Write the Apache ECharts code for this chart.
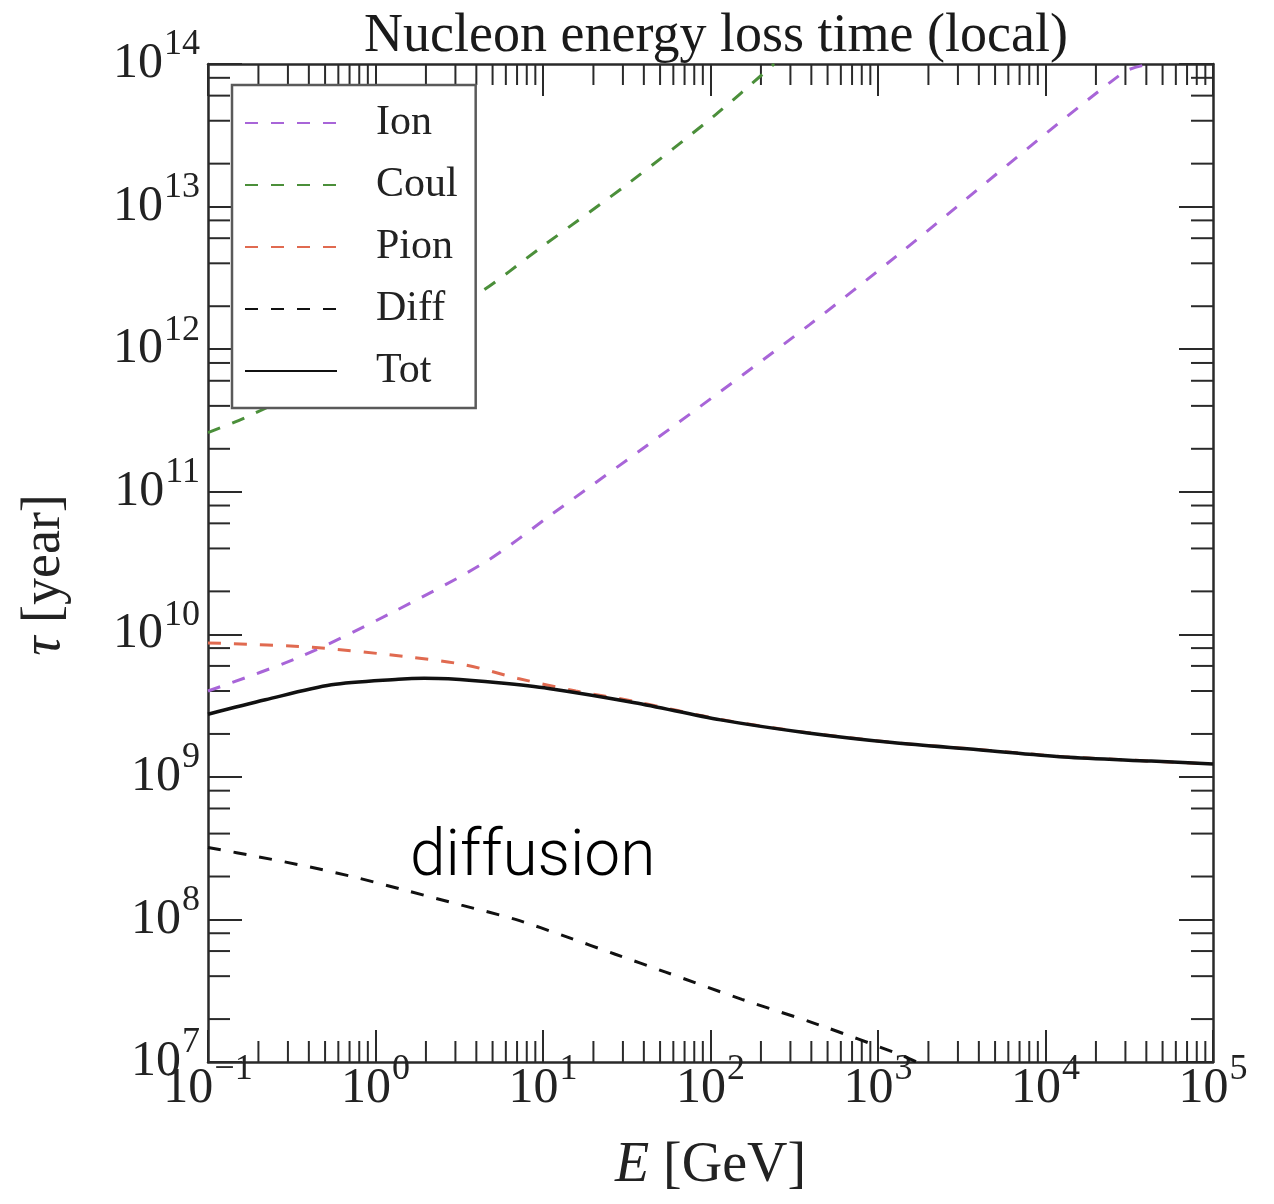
<!DOCTYPE html>
<html>
<head>
<meta charset="utf-8">
<script src="https://cdn.jsdelivr.net/npm/echarts@6/dist/echarts.min.js"></script>
<style>
  html, body { margin: 0; padding: 0; background: #fff; }
  #chart { width: 1274px; height: 1204px; }
</style>
</head>
<body>
<div id="chart"></div>
<script>
// Nucleon energy-loss times: energy E [GeV] and loss time tau [year]
const ionE   = [0.1, 0.35, 1.24, 4.5, 11.2, 63, 389, 1290, 29000, 42000];
const ionTau = [4.0e9, 6.9e9, 1.41e10, 3.2e10, 6.9e10, 3.0e11, 1.48e12, 4.5e12, 8.7e13, 1.0e14];

const coulE   = [0.1, 0.166, 0.8, 4.0, 9.8, 33, 107, 240];
const coulTau = [2.6e11, 3.3e11, 8.0e11, 2.4e12, 5.2e12, 1.48e13, 4.4e13, 1.0e14];

const pionE   = [0.1, 0.42, 1.64, 3.44, 7.1, 15.7, 35.3, 115, 372, 1216, 3981, 12900, 42700, 1e5];
const pionTau = [8.7e9, 8.1e9, 6.9e9, 6.1e9, 4.9e9, 4.0e9, 3.38e9, 2.53e9, 2.05e9, 1.745e9, 1.555e9, 1.385e9, 1.29e9, 1.23e9];

const diffE   = [0.1, 0.2, 0.4, 0.79, 1.57, 3.26, 6.85, 13.6, 27, 54, 154, 445, 1290, 1700];
const diffTau = [3.2e8, 2.75e8, 2.34e8, 1.95e8, 1.58e8, 1.26e8, 1.0e8, 7.6e7, 5.7e7, 4.27e7, 2.75e7, 1.82e7, 1.15e7, 1.0e7];

const totE   = [0.1, 0.22, 0.545, 1.37, 1.95, 2.72, 5.42, 10.8, 35.3, 115, 372, 1216, 3981, 12900, 42700, 1e5];
const totTau = [2.75e9, 3.47e9, 4.42e9, 4.84e9, 4.92e9, 4.88e9, 4.57e9, 4.17e9, 3.31e9, 2.51e9, 2.04e9, 1.74e9, 1.55e9, 1.38e9, 1.29e9, 1.23e9];

const seriesNames = ['Ion', 'Coul', 'Pion', 'Diff', 'Tot'];
const seriesColors = ['#a865d8', '#4b8f3a', '#e06a50', '#111111', '#111111'];

// Axis ranges (decades)
const xMin = 0.1, xMax = 1e5;
const yMin = 1e7, yMax = 1e14;
const xMinorMantissas = [2, 3, 4, 5, 6, 7, 8, 9];
const yMinorMantissas = [2, 4, 6, 8];

const SERIF = '"Liberation Serif", "Times New Roman", serif';
const FRAME = '#2a2a2a';

function pairs(xs, ys) { return xs.map((x, i) => [x, ys[i]]); }

function minorValues(lo, hi, mantissas) {
  const out = [];
  for (let k = Math.round(Math.log10(lo)); k < Math.round(Math.log10(hi)); k++) {
    mantissas.forEach(m => out.push(m * Math.pow(10, k)));
  }
  return out;
}

function powLabel(value) {
  const e = Math.round(Math.log10(value));
  return '{b|10}{s|' + String(e).replace('-', '\u2212') + '}';
}

const powRich = {
  b: { fontFamily: SERIF, fontSize: 50, lineHeight: 50, color: '#222', verticalAlign: 'bottom' },
  s: { fontFamily: SERIF, fontSize: 36, lineHeight: 36, color: '#222', verticalAlign: 'bottom', padding: [0, 0, 26, 1] }
};

const dash = [13, 13];

function lineSeries(name, xs, ys, color, solid) {
  return {
    name: name,
    type: 'line',
    xAxisIndex: 0, yAxisIndex: 0,
    data: pairs(xs, ys),
    symbol: 'none',
    smooth: 0.3,
    clip: true,
    lineStyle: { color: color, width: solid ? 3.5 : 3, type: solid ? 'solid' : dash },
    itemStyle: { color: color },
    z: 3
  };
}

const tickStyle = { stroke: FRAME, lineWidth: 2 };

const chart = echarts.init(document.getElementById('chart'), null, { renderer: 'canvas' });

chart.setOption({
  backgroundColor: '#fff',
  animation: false,
  title: {
    text: 'Nucleon energy loss time (local)',
    left: 711, top: 5, textAlign: 'center',
    textStyle: { fontFamily: SERIF, fontSize: 54, fontWeight: 'normal', color: '#1a1a1a' }
  },
  grid: { left: 208, right: 61, top: 64, bottom: 142, containLabel: false, outerBoundsMode: 'none' },
  legend: {
    data: seriesNames,
    orient: 'vertical',
    left: 232, top: 85,
    itemWidth: 92, itemHeight: 14, itemGap: 20,
    padding: [17, 18, 16, 12],
    backgroundColor: '#fff',
    borderColor: '#5a5a5a', borderWidth: 2.5, borderRadius: 0,
    itemStyle: { opacity: 0 },
    textStyle: { fontFamily: SERIF, fontSize: 42, color: '#222', padding: [0, 0, 0, 34] },
    z: 10
  },
  xAxis: [
    {
      type: 'log', logBase: 10, min: xMin, max: xMax, splitNumber: 6, position: 'bottom',
      name: '{i|E}{r| [GeV]}', nameLocation: 'middle', nameGap: 76,
      nameTextStyle: { rich: {
        i: { fontFamily: SERIF, fontStyle: 'italic', fontSize: 56, color: '#222' },
        r: { fontFamily: SERIF, fontSize: 56, color: '#222' }
      } },
      axisLine: { show: true, lineStyle: { color: FRAME, width: 2.5 } },
      axisTick: { show: true, inside: true, length: 32, lineStyle: { color: FRAME, width: 2 } },
      minorTick: { show: false },
      splitLine: { show: false },
      axisLabel: { formatter: powLabel, rich: powRich, margin: 2, showMinLabel: true, showMaxLabel: true }
    },
    {
      type: 'log', logBase: 10, min: xMin, max: xMax, splitNumber: 6, position: 'top',
      axisLine: { show: true, lineStyle: { color: FRAME, width: 2.5 } },
      axisTick: { show: true, inside: true, length: 32, lineStyle: { color: FRAME, width: 2 } },
      splitLine: { show: false },
      axisLabel: { show: false }
    }
  ],
  yAxis: [
    {
      type: 'log', logBase: 10, min: yMin, max: yMax, splitNumber: 7, position: 'left',
      name: '{i|\u03c4}{r| [year]}', nameLocation: 'middle', nameGap: 136, nameRotate: 90,
      nameTextStyle: { padding: [0, 24, 0, 0], rich: {
        i: { fontFamily: SERIF, fontStyle: 'italic', fontSize: 54, color: '#222' },
        r: { fontFamily: SERIF, fontSize: 54, color: '#222' }
      } },
      axisLine: { show: true, lineStyle: { color: FRAME, width: 2.5 } },
      axisTick: { show: true, inside: true, length: 34, lineStyle: { color: FRAME, width: 2 } },
      splitLine: { show: false },
      axisLabel: { formatter: powLabel, rich: powRich, margin: 8, showMinLabel: true, showMaxLabel: true }
    },
    {
      type: 'log', logBase: 10, min: yMin, max: yMax, splitNumber: 7, position: 'right',
      axisLine: { show: true, lineStyle: { color: FRAME, width: 2.5 } },
      axisTick: { show: true, inside: true, length: 34, lineStyle: { color: FRAME, width: 2 } },
      splitLine: { show: false },
      axisLabel: { show: false }
    }
  ],
  graphic: [
    {
      type: 'text', left: 410, top: 827, z: 20,
      style: { text: 'diffusion', fill: '#000', font: '300 64px Roboto, "Liberation Sans", sans-serif' }
    }
  ],
  series: [
    lineSeries('Ion', ionE, ionTau, seriesColors[0], false),
    lineSeries('Coul', coulE, coulTau, seriesColors[1], false),
    lineSeries('Pion', pionE, pionTau, seriesColors[2], false),
    lineSeries('Diff', diffE, diffTau, seriesColors[3], false),
    lineSeries('Tot', totE, totTau, seriesColors[4], true),
    {
      // minor ticks of the energy axis, drawn on bottom and top edges
      name: 'xMinorTicks', type: 'custom', xAxisIndex: 0, yAxisIndex: 0,
      data: minorValues(xMin, xMax, xMinorMantissas).map(v => [v, 1e10]),
      encode: { x: 0, y: 1 }, silent: true, z: 2,
      renderItem: function (params, api) {
        const cs = params.coordSys;
        const px = api.coord([api.value(0), 1e10])[0];
        return { type: 'group', children: [
          { type: 'line', shape: { x1: px, y1: cs.y + cs.height, x2: px, y2: cs.y + cs.height - 21 }, style: tickStyle },
          { type: 'line', shape: { x1: px, y1: cs.y, x2: px, y2: cs.y + 21 }, style: tickStyle }
        ] };
      }
    },
    {
      // minor ticks of the time axis, drawn on left and right edges
      name: 'yMinorTicks', type: 'custom', xAxisIndex: 0, yAxisIndex: 0,
      data: minorValues(yMin, yMax, yMinorMantissas).map(v => [1, v]),
      encode: { x: 0, y: 1 }, silent: true, z: 2,
      renderItem: function (params, api) {
        const cs = params.coordSys;
        const py = api.coord([1, api.value(1)])[1];
        return { type: 'group', children: [
          { type: 'line', shape: { x1: cs.x, y1: py, x2: cs.x + 22, y2: py }, style: tickStyle },
          { type: 'line', shape: { x1: cs.x + cs.width, y1: py, x2: cs.x + cs.width - 22, y2: py }, style: tickStyle }
        ] };
      }
    }
  ]
});
</script>
</body>
</html>
